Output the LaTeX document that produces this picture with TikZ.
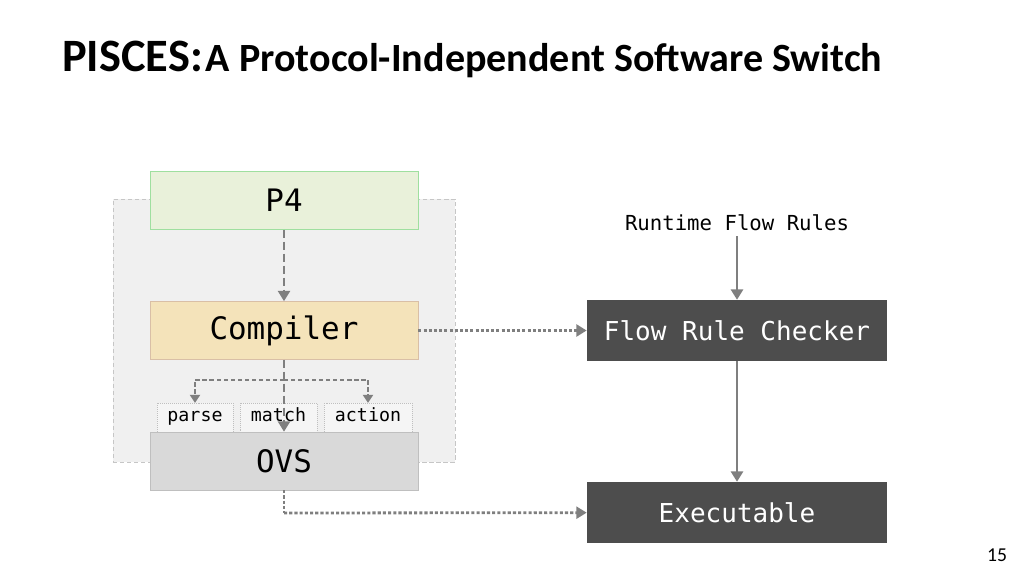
\documentclass[tikz,border=0pt]{standalone}
\usepackage{fontspec}
\setmainfont{Carlito}
\newfontfamily\monofont{DejaVu Sans Mono}
\usetikzlibrary{arrows.meta, positioning}
\definecolor{pfour}{HTML}{E9F1DA}
\definecolor{comp}{HTML}{F4E3BA}
\definecolor{ovsgray}{HTML}{D9D9D9}
\definecolor{darkbox}{HTML}{4D4D4D}
\definecolor{linegray}{HTML}{7F7F7F}
\begin{document}
\begin{tikzpicture}[
    x=0.025cm, y=-0.025cm,
    block/.style={rectangle, draw=#1, minimum width=6.7cm, minimum height=1.45cm, inner sep=0pt, font=\monofont\fontsize{22}{24}\selectfont},
    field/.style={rectangle, draw=gray!50, densely dotted, fill=gray!8, minimum height=0.72cm, inner sep=0pt, text height=1.4ex, text depth=0.35ex, font=\monofont\fontsize{13}{15}\selectfont},
    dark/.style={rectangle, fill=darkbox, text=white, minimum width=7.5cm, minimum height=1.52cm, inner sep=0pt, font=\monofont\fontsize{18.5}{20}\selectfont},
    flow/.style={-{Triangle[length=2.6mm,width=3mm]}, linegray, line width=2pt},
    dashflow/.style={flow, dash pattern=on 6pt off 2.5pt},
    dotflow/.style={flow, dash pattern=on 2.2pt off 1.5pt},
    thinflow/.style={-{Triangle[length=2mm,width=2.6mm]}, linegray, densely dashed, line width=0.8pt}
]
\useasboundingbox (0,0) rectangle (1024,576);

% Title
\node[anchor=base west, inner sep=0pt, font=\bfseries] (title) at (62,72)
  {{\fontsize{33}{36}\selectfont PISCES:} {\fontsize{28.5}{32}\selectfont A Protocol-Independent Software Switch}};

% Switch frame
\node[rectangle, draw=gray!45, densely dashed, fill=gray!12, minimum width=8.55cm, minimum height=6.575cm, inner sep=0pt] (frame) at (284,330.5) {};

% Left column
\node[block=green!50!gray!50, fill=pfour] (p4) at (284,200.5) {P4};
\node[block=orange!40!gray!50, fill=comp] (compiler) at (284,330.5) {Compiler};
\node[block=gray!50, fill=ovsgray] (ovs) at (284,461) {OVS};
\node[field, minimum width=1.9cm] (parse) at (195,417.5) {parse};
\node[field, minimum width=1.93cm] (match) at (278.5,417.5) {match};
\node[field, minimum width=2.2cm] (action) at (368,417.5) {action};

% Right column
\node[font=\monofont\fontsize{14.7}{16}\selectfont] (runtime) at (737,223) {Runtime Flow Rules};
\node[dark] (checker) at (737,330.5) {Flow Rule Checker};
\node[dark] (exec) at (737,512.5) {Executable};

% Connectors
\coordinate (split) at (284,380);
\coordinate (ovsturn) at (284,513);
\draw[dashflow] (p4) -- (compiler);
\draw[thinflow] (split) -| (parse);
\draw[thinflow] (split) -| (action);
\draw[dashflow] (compiler) -- (ovs.north);
\draw[dotflow] (compiler) -- (checker);
\draw[dotflow, -] (ovs.south) -- (ovsturn);
\draw[dotflow] (ovsturn) -- (exec);
\draw[flow] (runtime) -- (checker);
\draw[flow] (checker) -- (exec);

% Page number
\node[font=\fontsize{14}{16}\selectfont] (page) at (997,555) {15};
\end{tikzpicture}
\end{document}
